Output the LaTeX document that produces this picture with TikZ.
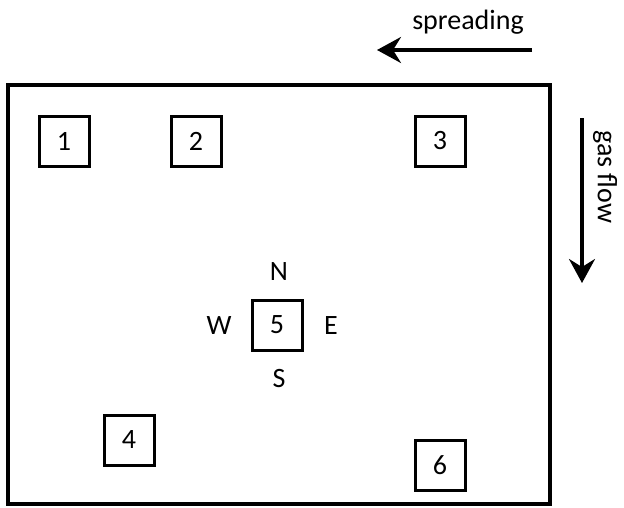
\documentclass[tikz,border=0pt]{standalone}
\usepackage{fontspec}
\setmainfont{Carlito}
\usetikzlibrary{arrows.meta}
\begin{document}
\begin{tikzpicture}[x=1pt,y=-1pt,
  sbox/.style={draw,line width=3pt,minimum width=50pt,minimum height=50pt,inner sep=0pt,font=\fontsize{28}{30}\selectfont},
  lbl/.style={font=\fontsize{28}{30}\selectfont,inner sep=0pt},
  bigarrow/.style={line width=3.4pt,-{Stealth[length=24pt,width=26pt,inset=8pt]}}]
\useasboundingbox (0,0) rectangle (624,507);
\node[draw,line width=3.4pt,minimum width=542pt,minimum height=419pt,inner sep=0pt] (field) at (279,294.5) {};
\node[sbox] (b1) at (64,141) {1};
\node[sbox] (b2) at (196,141) {2};
\node[sbox] (b3) at (440,141) {3};
\node[sbox] (b5) at (277,325) {5};
\node[sbox] (b4) at (129,440) {4};
\node[sbox] (b6) at (440,465) {6};
\node[lbl] (n) at (279,272) {N};
\node[lbl] (s) at (279,379) {S};
\node[lbl] (w) at (219,326) {W};
\node[lbl] (e) at (331,326) {E};
\coordinate (sa) at (532,50);
\coordinate (sb) at (377,50);
\draw[bigarrow] (sa) -- (sb);
\node[lbl] (spr) at (468,22) {spreading};
\coordinate (ga) at (582,118);
\coordinate (gb) at (582,283);
\draw[bigarrow] (ga) -- (gb);
\node[lbl,rotate=-90] (gas) at (605,177) {gas flow};
\end{tikzpicture}
\end{document}
